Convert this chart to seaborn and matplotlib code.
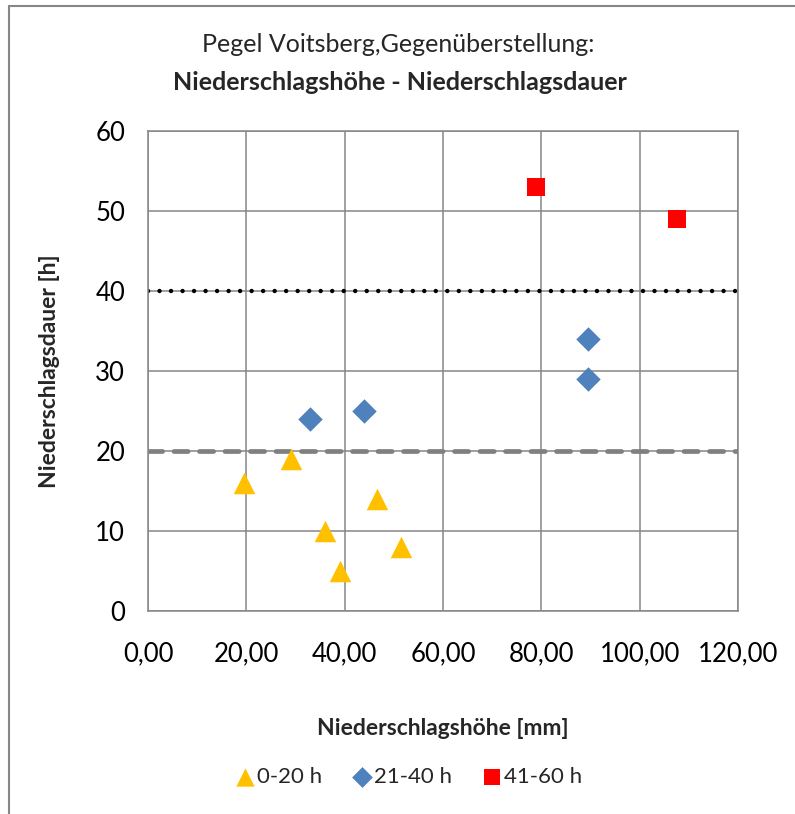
import matplotlib
matplotlib.use("Agg")
import matplotlib.pyplot as plt
import seaborn as sns
import pandas as pd
from matplotlib.ticker import FuncFormatter, MultipleLocator
from matplotlib.lines import Line2D

# ---- data ----
x_short = [19.5, 29.0, 36.0, 39.0, 46.5, 51.5]
y_short = [16, 19, 10, 5, 14, 8]
x_mid = [33.0, 44.0, 89.4, 89.4]
y_mid = [24, 25, 34, 29]
x_long = [79.0, 107.5]
y_long = [53, 49]
groups = ["0-20 h", "21-40 h", "41-60 h"]
colors = ["#FFC000", "#4F81BD", "#FF0000"]
markers = ["^", "D", "s"]
line_40 = 40
line_20 = 20

df = pd.DataFrame({
    "x": x_short + x_mid + x_long,
    "y": y_short + y_mid + y_long,
    "g": [groups[0]] * len(x_short) + [groups[1]] * len(x_mid) + [groups[2]] * len(x_long),
})

sns.set_style("white")
plt.rcParams["font.family"] = ["Lato", "DejaVu Sans"]

fig = plt.figure(figsize=(7.95, 8.14), dpi=100)
ax = fig.add_axes([148 / 795, 1 - 611 / 814, 590 / 795, 480 / 814])

grid_c = "#868686"
ax.set_xlim(0, 120)
ax.set_ylim(0, 60)
ax.xaxis.set_major_locator(MultipleLocator(20))
ax.yaxis.set_major_locator(MultipleLocator(10))
ax.grid(True, color=grid_c, lw=1.1, zorder=0)
ax.set_axisbelow(True)
for s in ax.spines.values():
    s.set_color(grid_c)
    s.set_linewidth(1.1)

# reference lines
ax.axhline(line_20, color="#808080", lw=3.4, linestyle=(0, (3.0, 2.4)),
           dash_capstyle="round", zorder=2)
ax.axhline(line_40, color="black", lw=3.2, linestyle=(0, (0.01, 2.58)),
           dash_capstyle="round", zorder=2)

sizes = {groups[0]: 240, groups[1]: 155, groups[2]: 170}
for g, c, m in zip(groups, colors, markers):
    sub = df[df["g"] == g]
    sns.scatterplot(data=sub, x="x", y="y", color=c, marker=m, s=sizes[g],
                    linewidth=0, ax=ax, zorder=3, label=g)

ax.xaxis.set_major_formatter(FuncFormatter(lambda v, p: f"{v:.2f}".replace(".", ",")))
ax.yaxis.set_major_formatter(FuncFormatter(lambda v, p: f"{v:.0f}"))
ax.tick_params(axis="both", direction="out", length=6.5, width=1.1,
               labelsize=18.5, colors=grid_c, labelcolor="black")
ax.tick_params(axis="x", pad=15)
ax.tick_params(axis="y", pad=10)

ax.set_xlabel("Niederschlagshöhe [mm]", fontsize=16.5, fontweight="bold", labelpad=0)
ax.xaxis.set_label_coords(0.5, -(718 - 611) / 480, transform=ax.transAxes)
ax.set_ylabel("Niederschlagsdauer [h]", fontsize=16.5, fontweight="bold")
ax.yaxis.set_label_coords(-(148 - 60) / 590, 0.5, transform=ax.transAxes)

fig.text(398 / 795, 1 - 45 / 814, "Pegel Voitsberg,Gegenüberstellung:", ha="center",
         va="center", fontsize=18)
fig.text(400 / 795, 1 - 83 / 814, "Niederschlagshöhe - Niederschlagsdauer", ha="center",
         va="center", fontsize=18, fontweight="bold")

handles, labels = ax.get_legend_handles_labels()
ax.legend(handles, labels, loc="center", bbox_to_anchor=(408 / 795, 1 - 777 / 814),
          bbox_transform=fig.transFigure, ncol=3, frameon=False, fontsize=16,
          handletextpad=0.05, columnspacing=1.3, handlelength=1.0, markerscale=0.85)

# chart-area border (left and top)
fig.add_artist(Line2D([8.5 / 795, 8.5 / 795], [0, 1 - 6 / 814], transform=fig.transFigure,
                      color=grid_c, lw=1.5))
fig.add_artist(Line2D([8.5 / 795, 1], [1 - 6 / 814, 1 - 6 / 814], transform=fig.transFigure,
                      color=grid_c, lw=1.5))

fig.savefig("out.png", dpi=100)
